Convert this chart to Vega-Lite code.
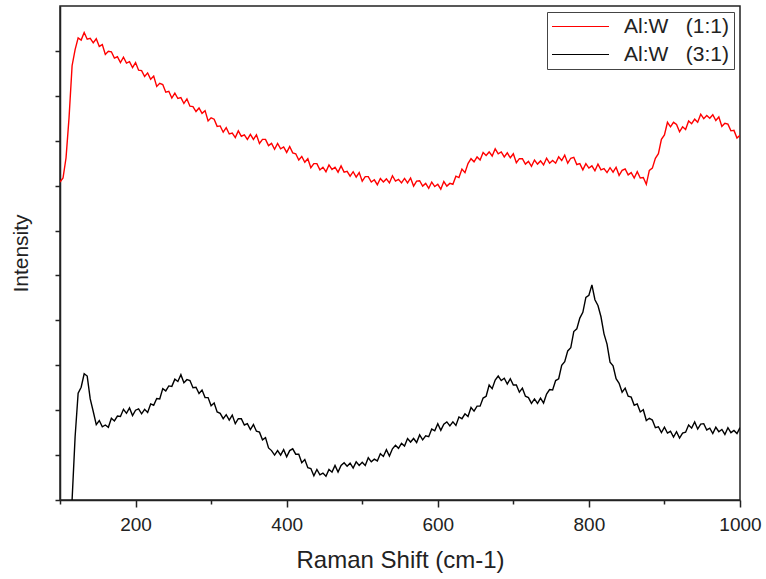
{
  "$schema": "https://vega.github.io/schema/vega-lite/v6.json",
  "width": 680,
  "height": 494,
  "autosize": {"type": "none"},
  "padding": {"left": 60, "top": 6, "right": 26, "bottom": 79},
  "background": "white",
  "config": {
    "font": "Liberation Sans",
    "view": {"stroke": "#222", "strokeWidth": 1.5},
    "axis": {"domainColor": "#222", "domainWidth": 1.5, "tickColor": "#222", "tickWidth": 1.5, "grid": false, "labelColor": "#222", "titleColor": "#222", "titleFontWeight": "normal"}
  },
  "data": {"values": [
    {"x":100,"r":7.08,"k":null},{"x":104,"r":7.17,"k":null},{"x":108,"r":7.62,"k":null},{"x":112,"r":8.52,"k":null},
    {"x":116,"r":9.67,"k":0},{"x":120,"r":10.03,"k":1.41},{"x":124,"r":10.29,"k":2.38},{"x":128,"r":10.24,"k":2.51},
    {"x":132,"r":10.41,"k":2.81},{"x":136,"r":10.26,"k":2.76},{"x":140,"r":10.28,"k":2.25},{"x":144,"r":10.18,"k":1.97},
    {"x":148,"r":10.27,"k":1.68},{"x":152,"r":10.10,"k":1.77},{"x":156,"r":10.14,"k":1.63},{"x":160,"r":9.92,"k":1.67},
    {"x":164,"r":9.99,"k":1.62},{"x":168,"r":9.98,"k":1.82},{"x":172,"r":9.84,"k":1.76},{"x":176,"r":9.87,"k":1.87},
    {"x":180,"r":9.74,"k":1.86},{"x":184,"r":9.86,"k":2.02},{"x":188,"r":9.73,"k":1.93},{"x":192,"r":9.76,"k":2.05},
    {"x":196,"r":9.63,"k":1.88},{"x":200,"r":9.74,"k":2.0},{"x":204,"r":9.57,"k":2.03},{"x":208,"r":9.56,"k":1.92},
    {"x":212,"r":9.43,"k":2.02},{"x":216,"r":9.51,"k":1.95},{"x":220,"r":9.37,"k":2.14},{"x":224,"r":9.44,"k":2.11},
    {"x":228,"r":9.21,"k":2.26},{"x":232,"r":9.28,"k":2.25},{"x":236,"r":9.25,"k":2.48},{"x":240,"r":9.08,"k":2.43},
    {"x":244,"r":9.10,"k":2.54},{"x":248,"r":8.95,"k":2.53},{"x":252,"r":9.06,"k":2.69},{"x":256,"r":8.94,"k":2.64},
    {"x":260,"r":8.96,"k":2.79},{"x":264,"r":8.83,"k":2.61},{"x":268,"r":8.93,"k":2.68},{"x":272,"r":8.77,"k":2.66},
    {"x":276,"r":8.76,"k":2.5},{"x":280,"r":8.65,"k":2.51},{"x":284,"r":8.73,"k":2.37},{"x":288,"r":8.61,"k":2.45},
    {"x":292,"r":8.67,"k":2.28},{"x":296,"r":8.44,"k":2.28},{"x":300,"r":8.51,"k":2.10},{"x":304,"r":8.48,"k":2.16},
    {"x":308,"r":8.32,"k":1.96},{"x":312,"r":8.33,"k":1.93},{"x":316,"r":8.19,"k":1.81},{"x":320,"r":8.29,"k":1.9},
    {"x":324,"r":8.15,"k":1.78},{"x":328,"r":8.17,"k":1.89},{"x":332,"r":8.07,"k":1.70},{"x":336,"r":8.22,"k":1.81},
    {"x":340,"r":8.10,"k":1.81},{"x":344,"r":8.13,"k":1.67},{"x":348,"r":8.03,"k":1.70},{"x":352,"r":8.14,"k":1.57},
    {"x":356,"r":8.03,"k":1.68},{"x":360,"r":8.13,"k":1.53},{"x":364,"r":7.94,"k":1.51},{"x":368,"r":8.03,"k":1.34},
    {"x":372,"r":8.03,"k":1.39},{"x":376,"r":7.89,"k":1.16},{"x":380,"r":7.94,"k":1.10},{"x":384,"r":7.81,"k":1.00},
    {"x":388,"r":7.94,"k":1.10},{"x":392,"r":7.82,"k":1.00},{"x":396,"r":7.86,"k":1.12},{"x":400,"r":7.74,"k":0.96},
    {"x":404,"r":7.87,"k":1.10},{"x":408,"r":7.73,"k":1.14},{"x":412,"r":7.71,"k":1.02},{"x":416,"r":7.57,"k":1.02},
    {"x":420,"r":7.65,"k":0.83},{"x":424,"r":7.52,"k":0.90},{"x":428,"r":7.60,"k":0.72},{"x":432,"r":7.40,"k":0.70},
    {"x":436,"r":7.49,"k":0.54},{"x":440,"r":7.49,"k":0.68},{"x":444,"r":7.35,"k":0.56},{"x":448,"r":7.41,"k":0.60},
    {"x":452,"r":7.31,"k":0.53},{"x":456,"r":7.46,"k":0.68},{"x":460,"r":7.36,"k":0.62},{"x":464,"r":7.41,"k":0.77},
    {"x":468,"r":7.30,"k":0.62},{"x":472,"r":7.44,"k":0.77},{"x":476,"r":7.30,"k":0.83},{"x":480,"r":7.32,"k":0.75},
    {"x":484,"r":7.21,"k":0.82},{"x":488,"r":7.31,"k":0.71},{"x":492,"r":7.19,"k":0.85},{"x":496,"r":7.29,"k":0.77},
    {"x":500,"r":7.10,"k":0.84},{"x":504,"r":7.20,"k":0.77},{"x":508,"r":7.20,"k":0.94},{"x":512,"r":7.08,"k":0.85},
    {"x":516,"r":7.13,"k":0.91},{"x":520,"r":7.02,"k":0.87},{"x":524,"r":7.16,"k":1.03},{"x":528,"r":7.08,"k":0.97},
    {"x":532,"r":7.15,"k":1.12},{"x":536,"r":7.06,"k":0.98},{"x":540,"r":7.22,"k":1.14},{"x":544,"r":7.10,"k":1.22},
    {"x":548,"r":7.14,"k":1.15},{"x":552,"r":7.06,"k":1.26},{"x":556,"r":7.16,"k":1.20},{"x":560,"r":7.06,"k":1.37},
    {"x":564,"r":7.17,"k":1.29},{"x":568,"r":6.99,"k":1.37},{"x":572,"r":7.10,"k":1.28},{"x":576,"r":7.11,"k":1.45},
    {"x":580,"r":6.99,"k":1.34},{"x":584,"r":7.05,"k":1.43},{"x":588,"r":6.94,"k":1.41},{"x":592,"r":7.08,"k":1.58},
    {"x":596,"r":6.98,"k":1.54},{"x":600,"r":7.03,"k":1.70},{"x":604,"r":6.92,"k":1.55},{"x":608,"r":7.09,"k":1.69},
    {"x":612,"r":6.99,"k":1.74},{"x":616,"r":7.05,"k":1.65},{"x":620,"r":7.03,"k":1.74},{"x":624,"r":7.21,"k":1.66},
    {"x":628,"r":7.18,"k":1.85},{"x":632,"r":7.37,"k":1.81},{"x":636,"r":7.29,"k":1.92},{"x":640,"r":7.49,"k":1.86},
    {"x":644,"r":7.60,"k":2.06},{"x":648,"r":7.53,"k":1.98},{"x":652,"r":7.64,"k":2.09},{"x":656,"r":7.57,"k":2.09},
    {"x":660,"r":7.74,"k":2.27},{"x":664,"r":7.67,"k":2.31},{"x":668,"r":7.75,"k":2.56},{"x":672,"r":7.66,"k":2.48},
    {"x":676,"r":7.82,"k":2.67},{"x":680,"r":7.71,"k":2.76},{"x":684,"r":7.75,"k":2.66},{"x":688,"r":7.64,"k":2.71},
    {"x":692,"r":7.73,"k":2.58},{"x":696,"r":7.62,"k":2.70},{"x":700,"r":7.71,"k":2.56},{"x":704,"r":7.51,"k":2.56},
    {"x":708,"r":7.60,"k":2.40},{"x":712,"r":7.60,"k":2.49},{"x":716,"r":7.48,"k":2.31},{"x":720,"r":7.54,"k":2.28},
    {"x":724,"r":7.43,"k":2.15},{"x":728,"r":7.57,"k":2.25},{"x":732,"r":7.48,"k":2.15},{"x":736,"r":7.55,"k":2.27},
    {"x":740,"r":7.46,"k":2.16},{"x":744,"r":7.61,"k":2.36},{"x":748,"r":7.50,"k":2.46},{"x":752,"r":7.56,"k":2.45},
    {"x":756,"r":7.50,"k":2.66},{"x":760,"r":7.64,"k":2.70},{"x":764,"r":7.56,"k":3.00},{"x":768,"r":7.68,"k":3.08},
    {"x":772,"r":7.50,"k":3.32},{"x":776,"r":7.61,"k":3.39},{"x":780,"r":7.63,"k":3.75},{"x":784,"r":7.47,"k":3.81},
    {"x":788,"r":7.49,"k":4.05},{"x":792,"r":7.35,"k":4.18},{"x":796,"r":7.49,"k":4.51},{"x":800,"r":7.39,"k":4.56},
    {"x":804,"r":7.44,"k":4.79},{"x":808,"r":7.33,"k":4.46},{"x":812,"r":7.48,"k":4.33},{"x":816,"r":7.35,"k":4.08},
    {"x":820,"r":7.38,"k":3.70},{"x":824,"r":7.29,"k":3.47},{"x":828,"r":7.40,"k":3.07},{"x":832,"r":7.30,"k":2.99},
    {"x":836,"r":7.41,"k":2.70},{"x":840,"r":7.23,"k":2.60},{"x":844,"r":7.34,"k":2.40},{"x":848,"r":7.37,"k":2.49},
    {"x":852,"r":7.24,"k":2.31},{"x":856,"r":7.29,"k":2.29},{"x":860,"r":7.17,"k":2.11},{"x":864,"r":7.31,"k":2.14},
    {"x":868,"r":7.17,"k":1.96},{"x":872,"r":7.18,"k":2.01},{"x":876,"r":7.03,"k":1.77},{"x":880,"r":7.34,"k":1.82},
    {"x":884,"r":7.39,"k":1.78},{"x":888,"r":7.61,"k":1.61},{"x":892,"r":7.71,"k":1.63},{"x":896,"r":8.03,"k":1.50},
    {"x":900,"r":8.13,"k":1.62},{"x":904,"r":8.41,"k":1.49},{"x":908,"r":8.31,"k":1.53},{"x":912,"r":8.41,"k":1.40},
    {"x":916,"r":8.36,"k":1.52},{"x":920,"r":8.20,"k":1.38},{"x":924,"r":8.31,"k":1.49},{"x":928,"r":8.25,"k":1.51},
    {"x":932,"r":8.44,"k":1.67},{"x":936,"r":8.38,"k":1.60},{"x":940,"r":8.48,"k":1.74},{"x":944,"r":8.41,"k":1.58},
    {"x":948,"r":8.59,"k":1.69},{"x":952,"r":8.49,"k":1.70},{"x":956,"r":8.56,"k":1.56},{"x":960,"r":8.50,"k":1.60},
    {"x":964,"r":8.58,"k":1.48},{"x":968,"r":8.45,"k":1.62},{"x":972,"r":8.53,"k":1.52},{"x":976,"r":8.32,"k":1.57},
    {"x":980,"r":8.39,"k":1.46},{"x":984,"r":8.37,"k":1.61},{"x":988,"r":8.22,"k":1.50},{"x":992,"r":8.23,"k":1.55},
    {"x":996,"r":8.06,"k":1.48},{"x":1000,"r":8.12,"k":1.61}
  ]},
  "transform": [{"fold": ["r", "k"], "as": ["s", "v"]}],
  "mark": {"type": "line", "strokeWidth": 1.4, "clip": true},
  "encoding": {
    "x": {
      "field": "x", "type": "quantitative",
      "scale": {"domain": [100, 1000], "nice": false, "zero": false},
      "axis": {
        "title": "Raman Shift (cm-1)",
        "format": "d",
        "values": [100, 200, 300, 400, 500, 600, 700, 800, 900, 1000],
        "labelExpr": "datum.value % 200 === 0 ? datum.label : ''",
        "tickSize": {"condition": {"test": "datum.value % 200 === 0", "value": 7}, "value": 4},
        "labelFontSize": 19, "labelPadding": 8, "labelFlush": false,
        "titleFontSize": 24, "titlePadding": 14
      }
    },
    "y": {
      "field": "v", "type": "quantitative",
      "scale": {"domain": [0, 11], "nice": false},
      "axis": {
        "title": "Intensity",
        "values": [0, 1, 2, 3, 4, 5, 6, 7, 8, 9, 10],
        "labels": false, "tickSize": 5,
        "titleFontSize": 21, "titlePadding": 23
      }
    },
    "color": {
      "field": "s", "type": "nominal",
      "scale": {"domain": ["r", "k"], "range": ["#ff0000", "#000000"]},
      "legend": {
        "title": null,
        "orient": "top-right", "offset": 6,
        "labelExpr": "datum.label === 'r' ? 'Al:W\u00a0\u00a0\u00a0(1:1)' : 'Al:W\u00a0\u00a0\u00a0(3:1)'",
        "labelFontSize": 21, "labelColor": "#222", "labelOffset": 52,
        "symbolType": "M-1,0H5", "symbolSize": 361, "symbolStrokeWidth": 1.2,
        "strokeColor": "#444", "fillColor": "white", "padding": 4, "rowPadding": 6
      }
    }
  }
}
